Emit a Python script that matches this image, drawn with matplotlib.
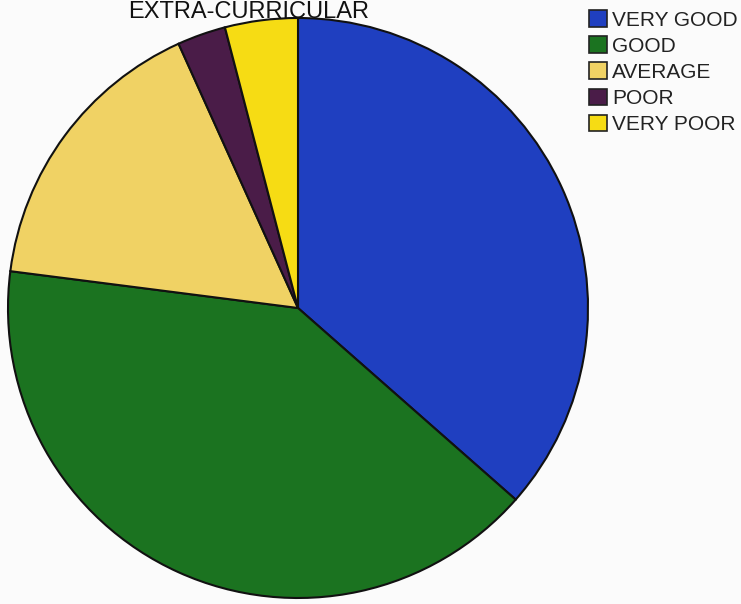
import matplotlib
matplotlib.use("Agg")
import matplotlib.pyplot as plt
from matplotlib.patches import Patch

plt.rcParams['font.family'] = ['Liberation Sans', 'DejaVu Sans']

categories = ["VERY GOOD", "GOOD", "AVERAGE", "POOR", "VERY POOR"]
values = [27, 30, 12, 2, 3]
colors = ["#1f3fc0", "#1b7320", "#f0d264", "#4a1c48", "#f6dc14"]
title = "EXTRA-CURRICULAR"

W, H = 741, 604
fig = plt.figure(figsize=(W / 100, H / 100), dpi=100)
fig.patch.set_facecolor("#fbfbfb")
ax = fig.add_axes([0, 0, 1, 1])
ax.set_xlim(0, W)
ax.set_ylim(0, H)
ax.set_aspect("equal")
ax.axis("off")

ax.pie(values, colors=colors, startangle=90, counterclock=False,
       center=(298, H - 308), radius=290,
       wedgeprops=dict(edgecolor="#111111", linewidth=1.5))
ax.set_xlim(0, W)
ax.set_ylim(0, H)

ax.text(128, H - 1, title, fontsize=17, color="#111111", ha="left", va="top")

handles = [Patch(facecolor=c, edgecolor="#222222", linewidth=1.2) for c in colors]
leg = ax.legend(handles, categories, loc="upper left",
                bbox_to_anchor=(589 / W, 1 - 10 / H), bbox_transform=fig.transFigure,
                frameon=False, fontsize=15, handlelength=0.85, handleheight=0.85,
                handletextpad=0.25, labelspacing=0.32, borderaxespad=0,
                borderpad=0)
for t in leg.get_texts():
    t.set_color("#222222")

fig.savefig("out.png", dpi=100, facecolor=fig.get_facecolor())
